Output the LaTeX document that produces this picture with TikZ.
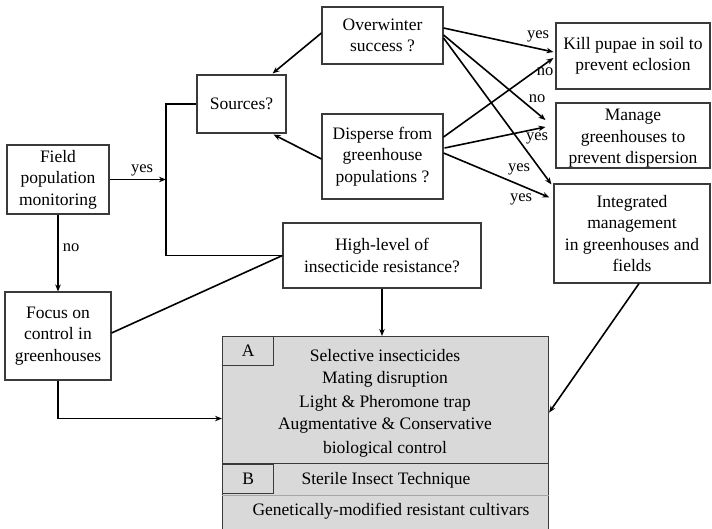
\documentclass[tikz,border=0pt]{standalone}
\usepackage{fontspec}
\setmainfont{Liberation Serif}
\usetikzlibrary{arrows.meta,calc}
\definecolor{boxgray}{HTML}{D9D9D9}
\definecolor{edge}{HTML}{3A3A3A}
\begin{document}
\begin{tikzpicture}[x=1pt,y=-1pt,
  box/.style={draw=edge, line width=1.1pt, fill=white, align=center, inner sep=0pt,
    font=\fontsize{17.5}{21.5}\selectfont},
  secbox/.style={draw=edge, line width=1.1pt, fill=boxgray, inner sep=0pt, anchor=north west},
  labbox/.style={draw=edge, line width=1.2pt, fill=boxgray, inner sep=0pt, anchor=north west,
    minimum width=51pt, minimum height=29pt, font=\fontsize{17.5}{21}\selectfont},
  txt/.style={inner sep=0pt, font=\fontsize{17.5}{21}\selectfont},
  lab/.style={inner sep=0pt, font=\fontsize{16.5}{18}\selectfont},
  conn/.style={line width=1.6pt, -{Stealth[length=7pt,width=5.5pt]}},
  plain/.style={line width=1.6pt}]
\useasboundingbox (0,0) rectangle (712,529);
\fill[white] (0,0) rectangle (712,529);

% boxes
\node[box, minimum width=102pt, minimum height=69pt] (field) at (58,179.5) {Field\\population\\monitoring};
\node[box, minimum width=89pt, minimum height=58pt] (sources) at (241.5,104) {Sources?};
\node[box, minimum width=121pt, minimum height=57pt] (over) at (382.5,35.5) {Overwinter\\success ?};
\node[box, minimum width=121pt, minimum height=85pt] (disp) at (382.5,156.5) {Disperse from\\greenhouse\\populations ?};
\node[box, minimum width=198pt, minimum height=65pt] (high) at (382,255.5) {High-level of\\insecticide resistance?};
\node[box, minimum width=154pt, minimum height=66pt] (kill) at (633,56) {Kill pupae in soil to\\prevent eclosion};
\node[box, minimum width=154pt, minimum height=65pt] (manage) at (633,135.5) {};
\node[box, draw=none, fill=none] (managetxt) at (633,138.5) {Manage\\greenhouses to\\prevent dispersion};
\node[box, minimum width=156pt, minimum height=99pt] (integ) at (632,233.5) {Integrated\\management\\in greenhouses and\\fields};
\node[box, minimum width=106pt, minimum height=88pt] (focus) at (58,336) {Focus on\\control in\\greenhouses};

% gray sections
\node[secbox, minimum width=326pt, minimum height=127pt] (secA) at (222,336) {};
\node[secbox, minimum width=326pt, minimum height=75pt] (secB) at (222,463) {};
\draw[black!35, line width=0.6pt] ($(secB.north west)+(0,32)$) coordinate (bl) -- (bl -| secB.east);
\node[labbox] (labA) at (222,336) {A};
\node[labbox] (labB) at (222,464) {B};

\node[txt] (a1) at (385,356) {Selective insecticides};
\node[txt] (a2) at (385,379) {Mating disruption};
\node[txt] (a3) at (385,403) {Light \& Pheromone trap};
\node[txt] (a4) at (385,426) {Augmentative \& Conservative};
\node[txt] (a5) at (385,449) {biological control};
\node[txt] (b1) at (386,480) {Sterile Insect Technique};
\node[txt] (b2) at (391,511) {Genetically-modified resistant cultivars};

% left connectors
\coordinate (jt) at (166,104);
\coordinate (jb) at (166,255.5);
\draw[plain] (sources.west) -- (jt) -- (jb) -- (high.west);
\draw[conn] (field.east) -- (field.east -| jt);
\node[lab] (yes0) at (142,170) {yes};
\draw[conn] (field.south) -- (focus.north);
\node[lab] (no0) at (71,248) {no};
\draw[plain] ($(focus.east)+(0,-3)$) -- (high.west);
\draw[conn] (high.south) -- (high.south |- secA.north);
\draw[conn] (focus.south) |- ($(secA.west)+(0,18.5)$);
\draw[conn] ($(integ.south)+(7,0)$) -- ($(secA.east)+(0,12.5)$);
\draw[conn] ($(over.west)+(0,-2.5)$) -- ($(sources.north east)+(-14,-1)$);
\draw[conn] ($(disp.west)+(0,2.5)$) -- ($(sources.south east)+(-13,1)$);

% right connectors
\draw[conn] ($(over.east)+(0,-7.5)$) -- ($(kill.west)+(-2,-4)$);
\draw[conn] ($(disp.east)+(0,-19.5)$) -- ($(kill.west)+(-2,2)$);
\draw[conn] ($(over.east)+(0,-0.5)$) -- ($(manage.west)+(-10,-15.5)$);
\draw[conn] ($(disp.east)+(1,-8.5)$) -- ($(manage.west)+(-10,-8.5)$);
\draw[conn] ($(over.east)+(0,2.5)$) -- ($(integ.north west)+(-2,1)$);
\draw[conn] ($(disp.east)+(0,-3.5)$) -- ($(integ.north west)+(-4,14)$);

\node[lab] (l1) at (538,36) {yes};
\node[lab] (l2) at (545,72) {no};
\node[lab] (l3) at (537,99) {no};
\node[lab] (l4) at (537,138) {yes};
\node[lab] (l5) at (519,169) {yes};
\node[lab] (l6) at (521,199) {yes};
\end{tikzpicture}
\end{document}
